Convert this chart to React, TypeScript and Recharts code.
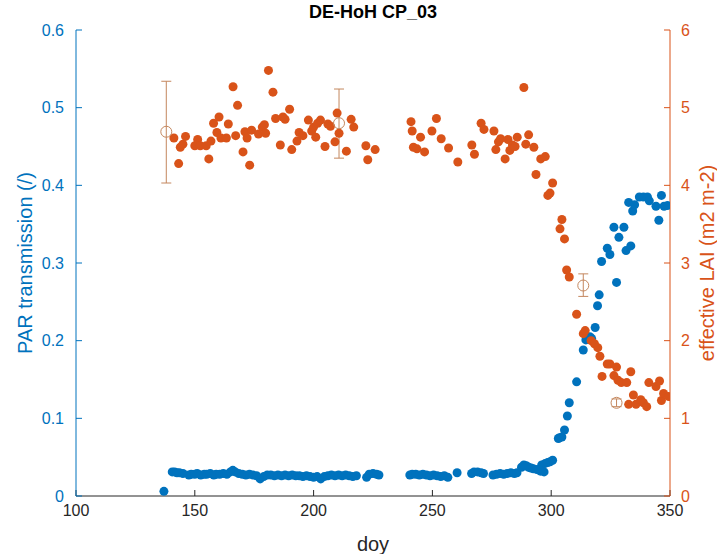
import { ScatterChart, Scatter, XAxis, YAxis, ErrorBar, Label } from "recharts";

// PAR transmission (left axis)
const parDoy = [
  137, 140.5, 141.5, 142.5, 143.5, 145, 147.5, 148.5, 150, 151, 152.5, 154, 155, 156.5, 158, 159, 160.5, 162,
  163.5, 165, 166, 167, 168.5, 170, 171.5, 173, 174.5, 176, 177.5, 179, 180.5, 182, 183.5, 185, 186.5, 188,
  189.5, 191, 192.5, 194, 195.5, 197, 198.5, 200, 201.5, 203, 204.5, 206, 207.5, 209, 210.5, 212, 213.5, 215,
  216.5, 218, 222.3, 223.4, 225, 226.5, 227.5, 240.5, 241.5, 243, 244.5, 246, 247.5, 249, 250.5, 252, 253.5,
  255, 256.5, 260.4, 266.5, 267.5, 269, 270.5, 271.5, 275.5, 277, 278.5, 280, 281.5, 283, 284.5, 285.6, 287.5,
  288.5, 289.5, 290.5, 291.5, 292.5, 294, 295.5, 297, 296, 297.5, 298.5, 299.5, 300.6, 303, 303.5, 304.5,
  305.6, 306.8, 307.6, 310.7, 313.5, 314.6, 316.2, 317, 318.5, 319.5, 320.2, 321.2, 323.6, 324.7, 326.4, 327.5,
  328.5, 330.6, 331.5, 333.5, 332.6, 334.3, 335.1, 337.1, 338.8, 340.5, 341.3, 344.1, 345.3, 346.4, 347.5, 349,
];
const parVal = [
  0.006, 0.031, 0.031, 0.03, 0.03, 0.029, 0.027, 0.028, 0.028, 0.029, 0.027, 0.028, 0.028, 0.029, 0.027, 0.028,
  0.028, 0.029, 0.028, 0.031, 0.033, 0.031, 0.029, 0.028, 0.027, 0.028, 0.027, 0.026, 0.022, 0.025, 0.027, 0.027,
  0.026, 0.027, 0.026, 0.027, 0.026, 0.027, 0.026, 0.026, 0.025, 0.026, 0.025, 0.024, 0.025, 0.022, 0.025, 0.026,
  0.027, 0.026, 0.027, 0.026, 0.027, 0.026, 0.025, 0.026, 0.024, 0.028, 0.029, 0.028, 0.027, 0.027, 0.028, 0.028,
  0.027, 0.028, 0.027, 0.026, 0.027, 0.026, 0.025, 0.026, 0.024, 0.03, 0.029, 0.031, 0.031, 0.03, 0.029, 0.027,
  0.028, 0.029, 0.028, 0.029, 0.03, 0.029, 0.03, 0.037, 0.04, 0.039, 0.037, 0.036, 0.035, 0.034, 0.032, 0.031,
  0.04, 0.042, 0.043, 0.044, 0.046, 0.074, 0.075, 0.076, 0.085, 0.103, 0.12, 0.147, 0.188, 0.201, 0.205, 0.203,
  0.217, 0.245, 0.259, 0.302, 0.319, 0.311, 0.346, 0.275, 0.333, 0.346, 0.316, 0.322, 0.378, 0.367, 0.375, 0.385,
  0.385, 0.385, 0.38, 0.373, 0.355, 0.387, 0.373, 0.374,
];

// effective LAI (right axis)
const laiDoy = [
  141.2, 143.2, 143.9, 145, 146.1, 150, 151.2, 152.3, 154.8, 155.9, 156.8, 157.9, 159.3, 160.2, 161, 163.3, 164.1,
  166.1, 167.2, 168, 170.3, 171.1, 172, 173.1, 173.9, 176.8, 178.4, 179.3, 179.8, 181, 182.9, 184, 186, 187.1,
  188, 189.9, 190.8, 193, 193.9, 195.5, 197.8, 199.2, 200, 200.9, 201.7, 202.9, 204.8, 206, 207.1, 209, 209.9,
  210.7, 213.8, 215.8, 216.9, 222, 222.8, 225.9, 241, 241.5, 242, 243.5, 245, 246.7, 249.8, 251.7, 253.7, 256.8,
  260.7, 266.6, 267.7, 270.5, 271.7, 275.9, 276.7, 277.8, 278.7, 280.6, 281.8, 282.6, 283.7, 284.8, 285.7, 288.5,
  289.3, 290.5, 292.7, 293.6, 295.6, 297.5, 298.6, 299.5, 300.6, 303.7, 304.5, 305.6, 306.5, 307.6, 310.7, 313.5,
  314.3, 316.8, 318.2, 319.6, 320.5, 321.4, 323.6, 324.7, 326.4, 327.5, 328.1, 329.5, 331.8, 332.6, 333.5, 334.6,
  335.7, 337.7, 338.8, 340.2, 341.1, 344.1, 345.6, 346.4, 347.3, 349.5,
];
const laiVal = [
  4.61, 4.28, 4.49, 4.53, 4.63, 4.51, 4.59, 4.51, 4.51, 4.34, 4.57, 4.8, 4.68, 4.88, 4.61, 4.61, 4.79, 5.27, 4.64,
  5.03, 4.43, 4.69, 4.61, 4.26, 4.71, 4.66, 4.75, 4.78, 4.67, 5.48, 5.2, 4.86, 4.52, 4.88, 4.85, 4.98, 4.46, 4.57,
  4.68, 4.64, 4.84, 4.7, 4.75, 4.62, 4.8, 4.84, 4.5, 4.79, 4.76, 4.56, 4.93, 4.67, 4.44, 4.85, 4.75, 4.51, 4.33,
  4.46, 4.82, 4.7, 4.49, 4.47, 4.62, 4.43, 4.7, 4.86, 4.6, 4.48, 4.3, 4.52, 4.4, 4.8, 4.72, 4.7, 4.46, 4.56, 4.6,
  4.34, 4.59, 4.45, 4.52, 4.5, 4.62, 5.26, 4.53, 4.65, 4.49, 4.14, 4.34, 4.37, 3.87, 3.9, 4.03, 3.44, 3.56, 3.31,
  2.91, 2.82, 2.34, 2.09, 2.13, 2.0, 1.96, 1.91, 1.8, 1.54, 1.7, 1.7, 1.55, 1.66, 1.49, 1.46, 1.46, 1.18, 1.6, 1.3,
  1.18, 1.24, 1.2, 1.15, 1.46, 1.41, 1.48, 1.23, 1.32, 1.28,
];

// reference LAI with error range
const refDoy = [138, 210.7, 313.5, 327.5];
const refVal = [4.69, 4.8, 2.71, 1.2];
const refLow = [4.03, 4.35, 2.57, 1.15];
const refHigh = [5.34, 5.24, 2.86, 1.25];

const xTicks = [100, 150, 200, 250, 300, 350];
const parTicks = [0, 0.1, 0.2, 0.3, 0.4, 0.5, 0.6];
const laiTicks = [0, 1, 2, 3, 4, 5, 6];

const BLUE = "#0072BD";
const ORANGE = "#D95319";
const BROWN = "#C4875E";
const GRAY = "#262626";
const FONT = '"Liberation Sans", Arial, Helvetica, sans-serif';

const parData = parDoy.map((d, i) => ({ doy: d, v: parVal[i] }));
const laiData = laiDoy.map((d, i) => ({ doy: d, v: laiVal[i] }));
const refData = refDoy.map((d, i) => ({
  doy: d,
  v: refVal[i],
  err: [refVal[i] - refLow[i], refHigh[i] - refVal[i]],
}));

const filledDot = (color: string) => (p: any) => <circle cx={p.cx} cy={p.cy} r={4.5} fill={color} />;
const openDot = (p: any) => <circle cx={p.cx} cy={p.cy} r={5.5} fill="none" stroke={BROWN} strokeWidth={1} />;

export default function App() {
  return (
    <div style={{ position: "absolute", left: 0, top: 0, width: 717, height: 554, background: "#fff", fontFamily: FONT }}>
      <div
        style={{
          position: "absolute",
          left: 76,
          width: 594,
          top: 2,
          textAlign: "center",
          fontWeight: "bold",
          fontSize: 18,
          color: "#000",
        }}
      >
        DE-HoH CP_03
      </div>
      <ScatterChart width={717} height={554} margin={{ top: 30, right: 0, bottom: 0, left: 0 }} style={{ fontFamily: FONT }}>
        <XAxis
          dataKey="doy"
          type="number"
          domain={[100, 350]}
          ticks={xTicks}
          allowDataOverflow
          height={58}
          tickSize={-6}
          tickMargin={15}
          stroke={GRAY}
          tick={{ fill: GRAY, fontSize: 16 }}
        >
          <Label value="doy" position="insideBottom" offset={3} fill={GRAY} fontSize={20} />
        </XAxis>
        <YAxis
          yAxisId="par"
          dataKey="v"
          type="number"
          domain={[0, 0.6]}
          ticks={parTicks}
          width={76}
          tickSize={-6}
          tickMargin={18}
          stroke={BLUE}
          tick={{ fill: BLUE, fontSize: 16 }}
        >
          <Label value="PAR transmission (/)" angle={-90} position="center" dx={-13} fill={BLUE} fontSize={20} />
        </YAxis>
        <YAxis
          yAxisId="lai"
          orientation="right"
          dataKey="v"
          type="number"
          domain={[0, 6]}
          ticks={laiTicks}
          width={47}
          tickSize={-6}
          tickMargin={17}
          stroke={ORANGE}
          tick={{ fill: ORANGE, fontSize: 16 }}
        >
          <Label value="effective LAI (m2 m-2)" angle={-90} position="center" dx={13} fill={ORANGE} fontSize={20} />
        </YAxis>
        <Scatter yAxisId="par" data={parData} shape={filledDot(BLUE)} isAnimationActive={false} />
        <Scatter yAxisId="lai" data={laiData} shape={filledDot(ORANGE)} isAnimationActive={false} />
        <Scatter yAxisId="lai" data={refData} shape={openDot} isAnimationActive={false}>
          <ErrorBar dataKey="err" direction="y" width={5} stroke={BROWN} strokeWidth={1} />
        </Scatter>
      </ScatterChart>
    </div>
  );
}
